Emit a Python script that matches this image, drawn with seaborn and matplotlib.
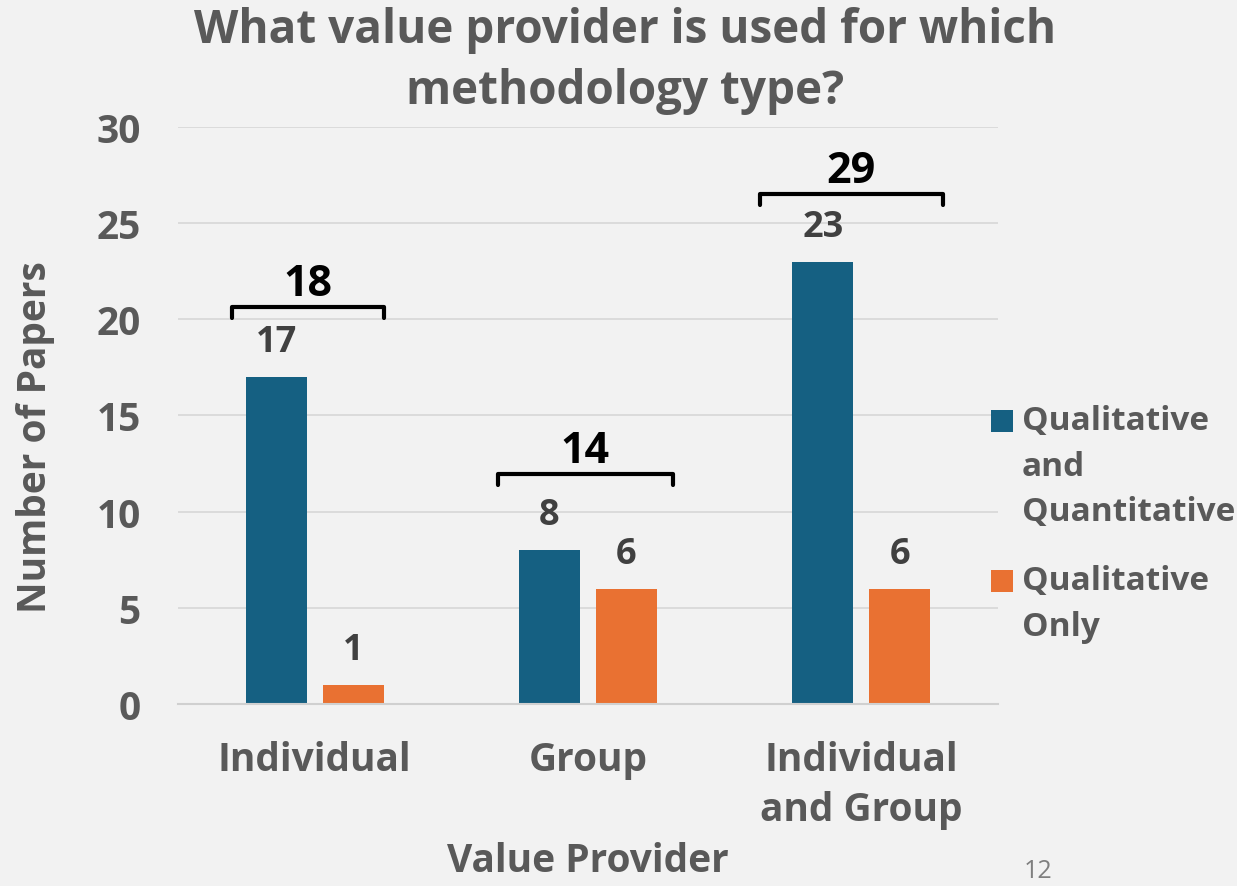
import matplotlib.pyplot as plt
import seaborn as sns
import pandas as pd
from matplotlib.patches import Rectangle

# Datos
providers = ["Individual", "Group", "Individual\nand Group"]
series = ["Qualitative\nand\nQuantitative", "Qualitative\nOnly"]
qual_quant = [17, 8, 23]
qual_only = [1, 6, 6]
totals = [18, 14, 29]
colors = ["#156082", "#e97132"]

df = pd.DataFrame({
    "provider": providers * 2,
    "type": [series[0]] * 3 + [series[1]] * 3,
    "papers": qual_quant + qual_only,
})

sns.set_theme(style="white")
plt.rcParams["font.family"] = ["Open Sans", "DejaVu Sans"]

bg = "#f2f2f2"
gray = "#595959"
fig = plt.figure(figsize=(12.37, 8.87), dpi=100, facecolor=bg)
ax = fig.add_axes([0.1439, 0.2052, 0.6629, 0.6505])
ax.set_facecolor(bg)

sns.barplot(data=df, x="provider", y="papers", hue="type",
            palette=colors, saturation=1, width=0.564, gap=0.208,
            linewidth=0, ax=ax, legend=False)

ax.set_ylim(0, 30)
ax.set_xlim(-0.5, 2.5)
ax.set_yticks(range(0, 31, 5))
ax.yaxis.grid(True, color="#d9d9d9", linewidth=1.3)
ax.set_axisbelow(True)
for s in ["left", "right", "top"]:
    ax.spines[s].set_visible(False)
ax.spines["bottom"].set_color("#d0d0d0")
ax.spines["bottom"].set_linewidth(1.5)

ax.tick_params(axis="x", which="major", length=0, pad=26, labelsize=28, labelcolor=gray)
ax.tick_params(axis="y", length=0, pad=27, labelsize=28, labelcolor=gray)
ax.set_xticks([-0.5, 0.5, 1.5, 2.5], minor=True)
ax.tick_params(axis="x", which="minor", length=14, width=1.5, color="#d0d0d0", direction="out")
for t in ax.get_xticklabels() + ax.get_yticklabels():
    t.set_fontweight("bold")
    t.set_linespacing(1.38)

# etiquetas de valores
for cont in ax.containers:
    ax.bar_label(cont, padding=12, fontsize=26, fontweight="bold", color="#404040")

# llaves con totales
brackets = [(-0.304, 0.253, 20.64), (0.670, 1.311, 11.96), (1.630, 2.297, 26.5)]
for (x0, x1, y), tot in zip(brackets, totals):
    ax.plot([x0, x0, x1, x1], [y - 0.55, y, y, y - 0.55], color="black",
            linewidth=3, solid_joinstyle="round", clip_on=False)
    ax.text((x0 + x1) / 2, y + 0.1, str(tot), ha="center", va="bottom",
            fontsize=31, fontweight="bold", color="black")

ax.set_xlabel("Value Provider", fontsize=28, fontweight="bold", color=gray)
ax.xaxis.set_label_coords(0.5, -0.238)
ax.set_ylabel("Number of Papers", fontsize=28, fontweight="bold", color=gray)
ax.yaxis.set_label_coords(-0.15, 0.464)

# leyenda
leg_y = [0.512, 0.332]
for c, lab, yy in zip(colors, series, leg_y):
    fig.patches.append(Rectangle((0.8015, yy), 0.0172, 0.0245, transform=fig.transFigure,
                                 facecolor=c, edgecolor="none"))
    fig.text(0.826, yy + 0.031, lab, ha="left", va="top", fontsize=24,
             fontweight="bold", color=gray, linespacing=1.5)

fig.text(0.505, 0.992, "What value provider is used for which\nmethodology type?",
         ha="center", va="top", fontsize=33, fontweight="bold", color=gray,
         linespacing=1.4)
fig.text(0.839, 0.003, "12", fontsize=18, color="#7f7f7f", ha="center", va="bottom")

fig.savefig("out.png", dpi=100, facecolor=bg)
